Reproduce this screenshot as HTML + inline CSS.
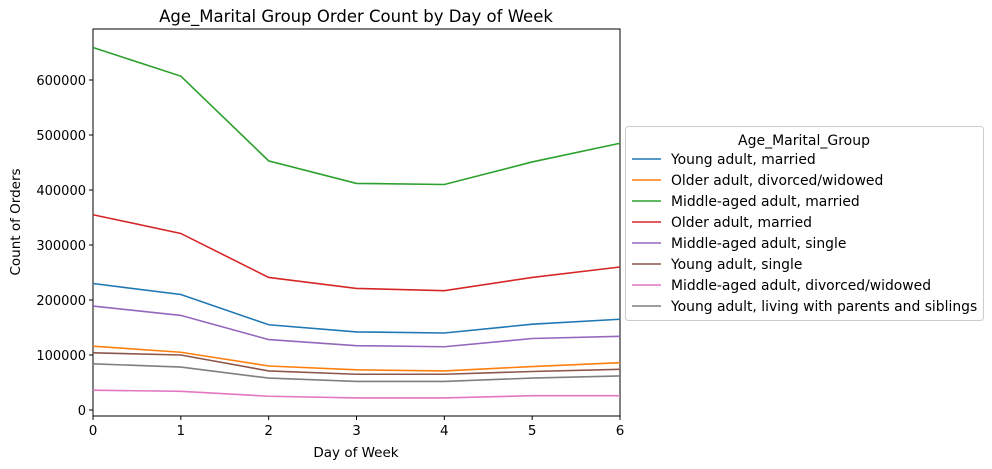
<!DOCTYPE html>
<html><head><meta charset="utf-8"><style>
html,body{margin:0;padding:0;background:#fff;}
svg{display:block;font-family:"DejaVu Sans","Liberation Sans",sans-serif;}
</style></head><body>
<svg id="chart" width="992" height="469">
<text x="356" y="22" font-size="16.5" text-anchor="middle">Age_Marital Group Order Count by Day of Week</text>
<g id="axes"></g>
<g id="series"></g>
<g id="legend"></g>
</svg>
<script>
const days=[0,1,2,3,4,5,6];
const yTicks=[0,100000,200000,300000,400000,500000,600000];
const seriesNames=["Young adult, married","Older adult, divorced/widowed","Middle-aged adult, married","Older adult, married","Middle-aged adult, single","Young adult, single","Middle-aged adult, divorced/widowed","Young adult, living with parents and siblings"];
const seriesColors=["#1f77b4","#ff7f0e","#2ca02c","#d62728","#9467bd","#8c564b","#e377c2","#7f7f7f"];
const youngMarried=[230000,210000,155000,142000,140000,156000,165000];
const olderDivorced=[116000,105000,80000,73000,71000,79000,86000];
const middleMarried=[659000,607000,453000,412000,410000,451000,485000];
const olderMarried=[355000,321000,241000,221000,217000,241000,260000];
const middleSingle=[189000,172000,128000,117000,115000,130000,134000];
const youngSingle=[104000,100000,71000,65000,65000,70000,74000];
const middleDivorced=[36000,34000,25000,22000,22000,26000,26000];
const youngParents=[84000,78000,58000,52000,52000,58000,62000];
const allSeries=[youngMarried,olderDivorced,middleMarried,olderMarried,middleSingle,youngSingle,middleDivorced,youngParents];
const NS="http://www.w3.org/2000/svg";
const L=93,R=620,T=29,B=416;
const x=d=>L+(d-0)/(6-0)*(R-L);
const y=v=>410-v*(330/600000);
function mk(t,a,p){const e=document.createElementNS(NS,t);for(const k in a)e.setAttribute(k,a[k]);p.appendChild(e);return e;}
const ax=document.getElementById('axes'),sg=document.getElementById('series'),lg=document.getElementById('legend');
days.forEach(d=>{
 const t=mk('line',{x1:x(d),x2:x(d),y1:B,y2:B+4,stroke:'#000'},ax);
 
 
 const l=mk('text',{x:x(d),y:B+19,'font-size':13.5,'text-anchor':'middle'},ax);l.textContent=d;
 
 
});
yTicks.forEach(v=>{
 const t=mk('line',{x1:L-4,x2:L,y1:y(v),y2:y(v),stroke:'#000'},ax);
 
 
 const l=mk('text',{x:L-7,y:y(v)+5,'font-size':13,'text-anchor':'end'},ax);l.textContent=v;
 
 
});
const xt=mk('text',{x:356,y:457,'font-size':13.5,'text-anchor':'middle'},ax);xt.textContent='Day of Week';


const yt=mk('text',{x:20,y:222,'font-size':13.5,'text-anchor':'middle',transform:'rotate(-90 20 222)'},ax);yt.textContent='Count of Orders';


allSeries.forEach((s,i)=>{
 const p=mk('polyline',{points:s.map((v,j)=>x(days[j])+','+y(v)).join(' '),fill:'none',stroke:seriesColors[i],'stroke-width':1.6},sg);
 
 
});
const fr=mk('rect',{x:L,y:T,width:R-L,height:B-T,fill:'none',stroke:'#000','stroke-width':1},ax);


const lb=mk('rect',{x:625.5,y:126.5,width:358,height:194,rx:3,fill:'#fff',stroke:'#ccc'},lg);


const lt=mk('text',{x:804,y:145,'font-size':14,'text-anchor':'middle'},lg);lt.textContent='Age_Marital_Group';


seriesNames.forEach((n,i)=>{
 const yy=159+i*21;
 const g=mk('g',{},lg);
 
 
 mk('line',{x1:632,x2:661,y1:yy,y2:yy,stroke:seriesColors[i],'stroke-width':1.6},g);
 const t=mk('text',{x:671,y:yy+5,'font-size':13.9},g);t.textContent=n;
});
</script>
</body></html>
